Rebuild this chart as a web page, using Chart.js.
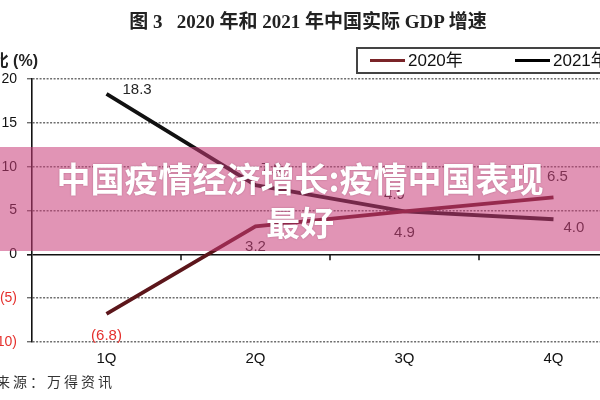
<!DOCTYPE html>
<html lang="zh">
<head>
<meta charset="UTF-8">
<title>2020 年和 2021 年中国实际 GDP 增速</title>
<script src="https://cdn.jsdelivr.net/npm/chart.js"></script>
<style>
    html, body {
        margin: 0;
        padding: 0;
        width: 600px;
        height: 400px;
        overflow: hidden;
        background: #fff;
        position: relative;
    }
    #wrap {
        position: absolute;
        left: -40px; /* chart is cropped on the left like the source scan */
        top: 0;
        width: 700px;
        height: 400px;
    }
    .title {
        position: absolute;
        top: 6px;
        left: 0;
        width: 616px;
        text-align: center;
        font-family: "Liberation Serif", "Noto Sans CJK SC", serif;
        font-weight: bold;
        font-size: 19px;
        color: #222;
        white-space: pre;
    }
    .ytitle {
        position: absolute;
        top: 47px;
        right: 562px;
        font-family: "Liberation Sans", Arial, "Noto Sans CJK SC", sans-serif;
        font-size: 16px;
        font-weight: bold;
        color: #222;
        white-space: nowrap;
    }
    .source {
        position: absolute;
        top: 371px;
        left: -38px;
        font-family: "Noto Sans CJK SC", sans-serif;
        font-size: 14px;
        letter-spacing: 3px;
        color: #333;
        white-space: nowrap;
    }
    .banner {
        position: absolute;
        left: 0;
        top: 147px;
        width: 600px;
        height: 104px;
        background: rgba(200, 60, 120, 0.55);
    }
    .banner-text {
        position: absolute;
        left: 0;
        top: 156px;
        width: 600px;
        text-align: center;
        font-family: "Noto Sans CJK SC", sans-serif;
        font-weight: bold;
        font-size: 34px;
        line-height: 44px;
        color: #fff;
        text-shadow: 0 0 2px rgba(90, 20, 50, 0.35);
    }
</style>
</head>
<body>
    <div id="wrap"><canvas id="chart" width="700" height="400"></canvas></div>
    <div class="title">图 3   2020 年和 2021 年中国实际 GDP 增速</div>
    <div class="ytitle">同比 (%)</div>
    <div class="source">资料来源：万得资讯</div>
    <div class="banner"></div>
    <div class="banner-text">中国疫情经济增长:疫情中国表现<br>最好</div>

<script>
    // quarters and real GDP growth, % yoy
    const quarters = ['1Q', '2Q', '3Q', '4Q'];
    const gdp2020 = [-6.8, 3.2, 4.9, 6.5];
    const gdp2021 = [18.3, 7.9, 4.9, 4.0];
    const seriesNames = ['2020年', '2021年'];
    const yTicks = [-10, -5, 0, 5, 10, 15, 20];

    // where each value label sits relative to its point
    const labelPlace = [
        ['below', 'below', 'below', 'above'],
        ['right', 'aboveRight', 'aboveLeft', 'rightLow']
    ];

    const fmt = v => v < 0 ? '(' + Math.abs(v).toFixed(1) + ')' : v.toFixed(1);

    const valueLabels = {
        id: 'valueLabels',
        afterDatasetsDraw(chart) {
            const ctx = chart.ctx;
            ctx.save();
            ctx.font = '15px "Liberation Sans", Arial, sans-serif';
            chart.data.datasets.forEach((ds, di) => {
                const meta = chart.getDatasetMeta(di);
                meta.data.forEach((pt, i) => {
                    const v = ds.data[i];
                    let x = pt.x, y = pt.y;
                    ctx.textAlign = 'center';
                    ctx.textBaseline = 'middle';
                    switch (labelPlace[di][i]) {
                        case 'below': y += (v < 0 ? 22 : 21); break;
                        case 'above': x += 4; y -= 20; break;
                        case 'right': ctx.textAlign = 'left'; x += 16; y -= 4; break;
                        case 'aboveRight': x += 16; y -= 16; break;
                        case 'aboveLeft': x -= 10; y -= 17; break;
                        case 'rightLow': ctx.textAlign = 'left'; x += 10; y += 9; break;
                    }
                    ctx.fillStyle = v < 0 ? '#e5302d' : '#262626';
                    ctx.fillText(fmt(v), x, y);
                });
            });
            ctx.restore();
        }
    };

    // small tick marks on the zero line between quarters
    const zeroTicks = {
        id: 'zeroTicks',
        afterDraw(chart) {
            const xs = chart.scales.x, ys = chart.scales.y;
            const ctx = chart.ctx;
            const step = xs.getPixelForValue(1) - xs.getPixelForValue(0);
            const y0 = ys.getPixelForValue(0);
            ctx.save();
            ctx.strokeStyle = '#111';
            ctx.lineWidth = 1.5;
            for (let i = 1; i <= quarters.length; i++) {
                const x = xs.getPixelForValue(i) - step / 2;
                ctx.beginPath();
                ctx.moveTo(x, y0);
                ctx.lineTo(x, y0 + 6);
                ctx.stroke();
            }
            ctx.restore();
        }
    };

    // boxed legend at top right, partly cut off by the page edge
    const boxLegend = {
        id: 'boxLegend',
        afterDraw(chart) {
            const ctx = chart.ctx;
            const left = 397, top = 48, bottom = 73;
            const mid = (top + bottom) / 2;
            ctx.save();
            ctx.strokeStyle = '#444';
            ctx.lineWidth = 2;
            ctx.strokeRect(left, top, 320, bottom - top);
            ctx.font = '17px "Liberation Sans", Arial, "Noto Sans CJK SC", sans-serif';
            ctx.textBaseline = 'middle';
            ctx.textAlign = 'left';
            const starts = [left + 13, left + 158];
            chart.data.datasets.forEach((ds, di) => {
                const sx = starts[di];
                ctx.strokeStyle = di === 0 ? '#7a2428' : '#000';
                ctx.lineWidth = 3;
                ctx.beginPath();
                ctx.moveTo(sx, mid);
                ctx.lineTo(sx + 35, mid);
                ctx.stroke();
                ctx.fillStyle = '#111';
                ctx.fillText(ds.label, sx + 38, mid + 1);
            });
            ctx.restore();
        }
    };

    Chart.defaults.font.family = '"Liberation Sans", Arial, sans-serif';

    new Chart(document.getElementById('chart'), {
        type: 'line',
        data: {
            labels: quarters,
            datasets: [
                {
                    label: seriesNames[0],
                    data: gdp2020,
                    borderColor: '#5c161b',
                    borderWidth: 3.8,
                    pointRadius: 0,
                    tension: 0
                },
                {
                    label: seriesNames[1],
                    data: gdp2021,
                    borderColor: '#111',
                    borderWidth: 3.8,
                    pointRadius: 0,
                    tension: 0
                }
            ]
        },
        options: {
            responsive: false,
            animation: false,
            layout: { padding: { top: 79, right: 32, left: 0, bottom: 0 } },
            plugins: {
                legend: { display: false },
                title: { display: false },
                tooltip: { enabled: false }
            },
            scales: {
                x: {
                    offset: true,
                    grid: { display: false, drawTicks: false },
                    border: { display: false },
                    ticks: {
                        padding: 8,
                        color: '#111',
                        font: { size: 15 }
                    },
                    afterFit: s => { s.height = 58; }
                },
                y: {
                    min: -10,
                    max: 20,
                    afterBuildTicks: s => { s.ticks = yTicks.map(v => ({ value: v })); },
                    grid: {
                        color: c => c.tick && c.tick.value === 0 ? '#111' : '#6e6e6e',
                        lineWidth: c => c.tick && c.tick.value === 0 ? 1.6 : 1.4,
                        tickLength: 5,
                        tickColor: c => c.tick && c.tick.value === 0 ? '#111' : '#6e6e6e'
                    },
                    border: {
                        display: true,
                        color: '#111',
                        width: 1.6,
                        dash: c => c.tick && c.tick.value !== 0 ? [2, 1.5] : []
                    },
                    ticks: {
                        padding: 10,
                        font: { size: 14 },
                        color: c => c.tick.value < 0 ? '#e5302d' : '#111',
                        callback: v => v < 0 ? '(' + Math.abs(v) + ')' : String(v)
                    },
                    afterFit: s => { s.width = 72; }
                }
            }
        },
        plugins: [valueLabels, zeroTicks, boxLegend]
    });
</script>
</body>
</html>
